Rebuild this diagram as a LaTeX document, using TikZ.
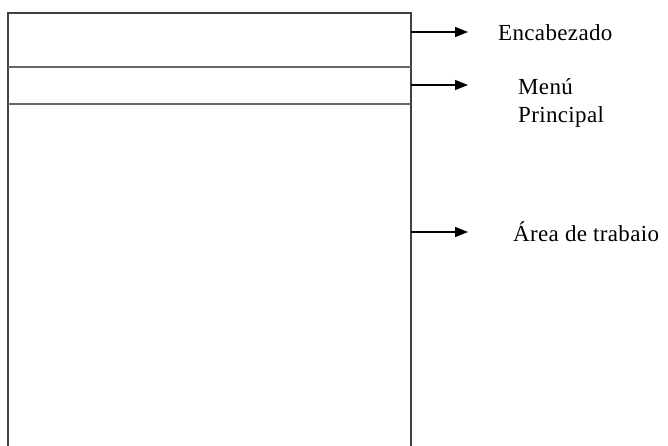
\documentclass[tikz,border=0pt]{standalone}
\usepackage{fontspec}
\setmainfont{Liberation Serif}
\usetikzlibrary{arrows.meta}
\begin{document}
\begin{tikzpicture}[x=1pt,y=-1pt,
  frame/.style={draw=black!75,line width=1.8pt},
  divider/.style={draw=black!60,line width=2pt},
  pointer/.style={draw=black,line width=1.2pt,-{Triangle[length=13pt,width=10pt]}},
  label/.style={anchor=base west,inner sep=0pt,font=\fontsize{23}{28}\selectfont\addfontfeature{LetterSpace=1.5}}]
  \useasboundingbox (0,0) rectangle (668,446);
  % page frame: open at the bottom
  \coordinate (tl) at (8,13);
  \coordinate (tr) at (411,13);
  \coordinate (bl) at (8,446);
  \coordinate (br) at (411,446);
  \draw[frame] (bl) -- (tl) -- (tr) -- (br);
  % section dividers
  \coordinate (d1l) at (8,67);   \coordinate (d1r) at (411,67);
  \coordinate (d2l) at (8,104);  \coordinate (d2r) at (411,104);
  \draw[divider] (d1l) -- (d1r);
  \draw[divider] (d2l) -- (d2r);
  % arrow origins on the right edge
  \coordinate (a1) at (411,32);
  \coordinate (a2) at (411,85);
  \coordinate (a3) at (411,232);
  \coordinate (t1) at (468,32);
  \coordinate (t2) at (468,85);
  \coordinate (t3) at (468,232);
  \draw[pointer] (a1) -- (t1);
  \draw[pointer] (a2) -- (t2);
  \draw[pointer] (a3) -- (t3);
  % labels
  \node[label] (enc) at (498,41) {Encabezado};
  \node[label] (menu) at (518,95) {Menú};
  \node[label] (princ) at (518,123) {Principal};
  \node[label] (area) at (513,241) {Área de trabaio};
\end{tikzpicture}
\end{document}
